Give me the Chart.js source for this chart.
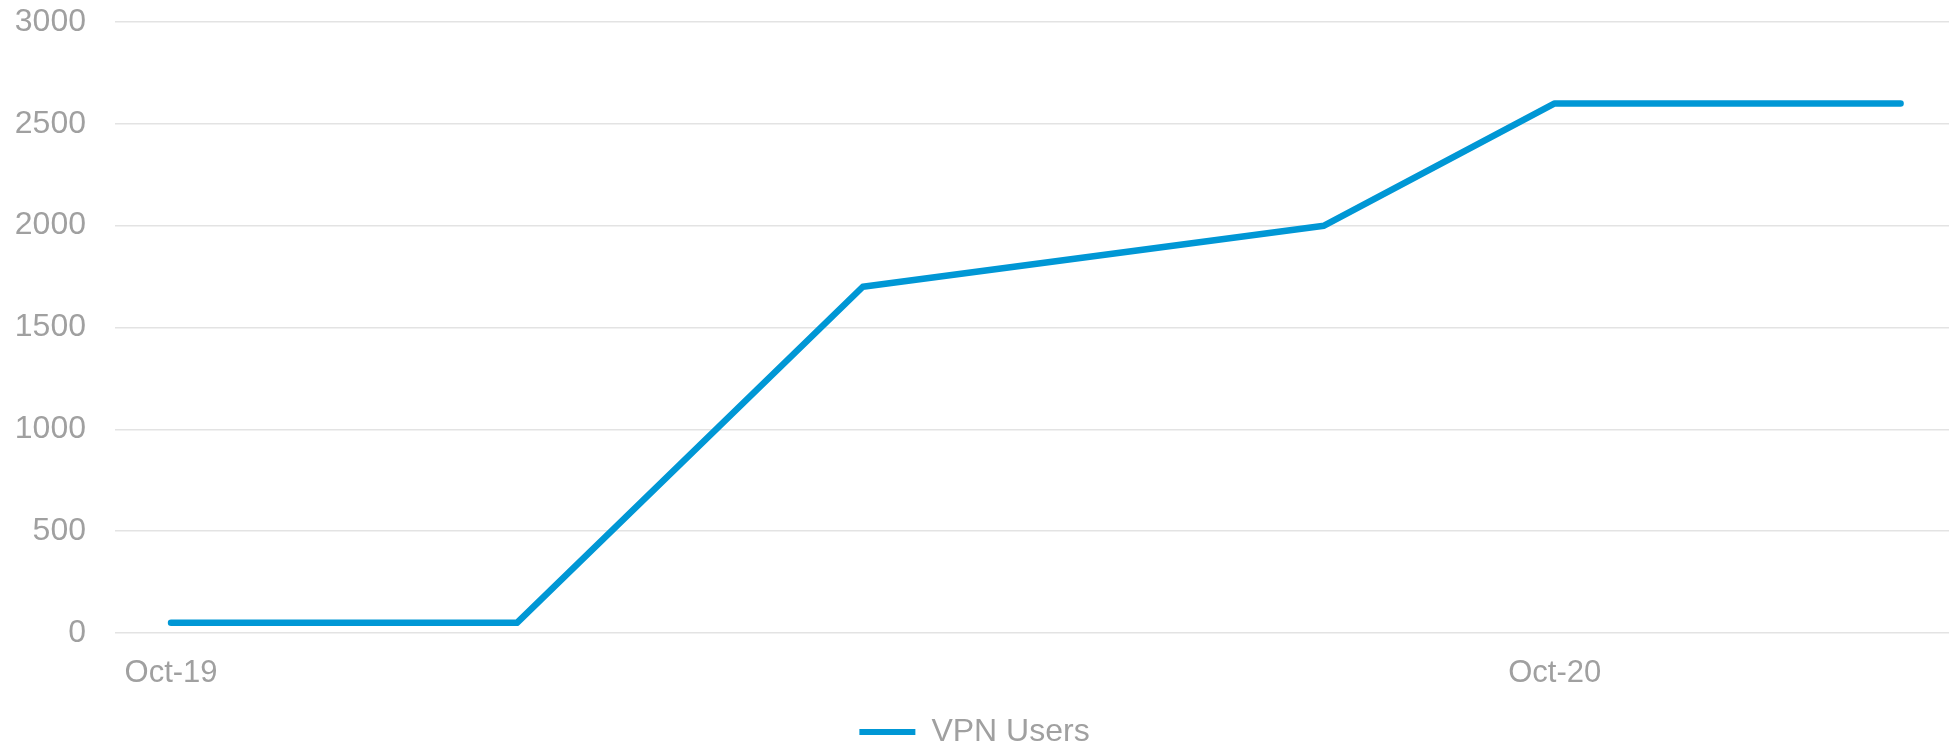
<!DOCTYPE html>
<html>
<head>
<meta charset="utf-8">
<title>VPN Users</title>
<script src="https://cdn.jsdelivr.net/npm/chart.js@4/dist/chart.umd.min.js"></script>
<style>
  html, body { margin: 0; padding: 0; background: #fff; }
  #wrap { width: 1949px; height: 747px; }
</style>
</head>
<body>
<div id="wrap"><canvas id="vpnChart" width="1949" height="747"></canvas></div>
<script>
// months since Oct-19
const monthOffsets = [0, 3, 6, 10, 12, 15];
const vpnUsers = [50, 50, 1700, 2000, 2600, 2600];
const xTickValues = [0, 12];
const xTickLabels = ["Oct-19", "Oct-20"];
const yTickValues = [0, 500, 1000, 1500, 2000, 2500, 3000];

const BLUE = "#0097d5";
const GREY_TEXT = "#a0a0a0";
const FONT = { family: "'Liberation Sans', Arial, sans-serif", size: 31 };

const points = monthOffsets.map((m, i) => ({ x: m, y: vpnUsers[i] }));

new Chart(document.getElementById("vpnChart"), {
  type: "line",
  data: {
    datasets: [{
      label: "VPN Users",
      data: points,
      borderColor: BLUE,
      backgroundColor: BLUE,
      borderWidth: 6.5,
      borderCapStyle: "round",
      borderJoinStyle: "round",
      pointRadius: 0,
      tension: 0,
      fill: false
    }]
  },
  options: {
    responsive: false,
    animation: false,
    layout: { padding: { top: 22, right: 0, left: 0, bottom: -11 } },
    scales: {
      x: {
        type: "linear",
        min: -0.486,
        max: 15.42,
        grid: { display: false },
        border: { display: false },
        afterBuildTicks: (s) => { s.ticks = xTickValues.map(v => ({ value: v })); },
        afterFit: (s) => { s.height = 83; },
        ticks: {
          color: GREY_TEXT,
          font: FONT,
          padding: 14,
          maxRotation: 0,
          autoSkip: false,
          callback: (v) => xTickLabels[xTickValues.indexOf(v)] ?? ""
        }
      },
      y: {
        min: 0,
        max: 3000,
        afterBuildTicks: (s) => { s.ticks = yTickValues.map(v => ({ value: v })); },
        afterFit: (s) => { s.width = 115; s.paddingTop = 0; s.paddingBottom = 0; },
        grid: { color: "#e3e3e3", lineWidth: 1.5, drawTicks: false },
        border: { display: false },
        ticks: { color: GREY_TEXT, font: { ...FONT, size: 32 }, padding: 29, callback: (v) => String(v) }
      }
    },
    plugins: {
      legend: {
        position: "bottom",
        labels: {
          color: GREY_TEXT,
          font: { ...FONT, size: 32 },
          boxWidth: 56,
          boxHeight: 6,
          padding: 0,
          useBorderRadius: true,
          borderRadius: 3,
          generateLabels: (chart) => chart.data.datasets.map((d, i) => ({
            text: d.label,
            fillStyle: BLUE,
            strokeStyle: BLUE,
            lineWidth: 0,
            fontColor: GREY_TEXT,
            datasetIndex: i,
            hidden: false
          }))
        }
      },
      tooltip: { enabled: false }
    }
  }
});
</script>
</body>
</html>
